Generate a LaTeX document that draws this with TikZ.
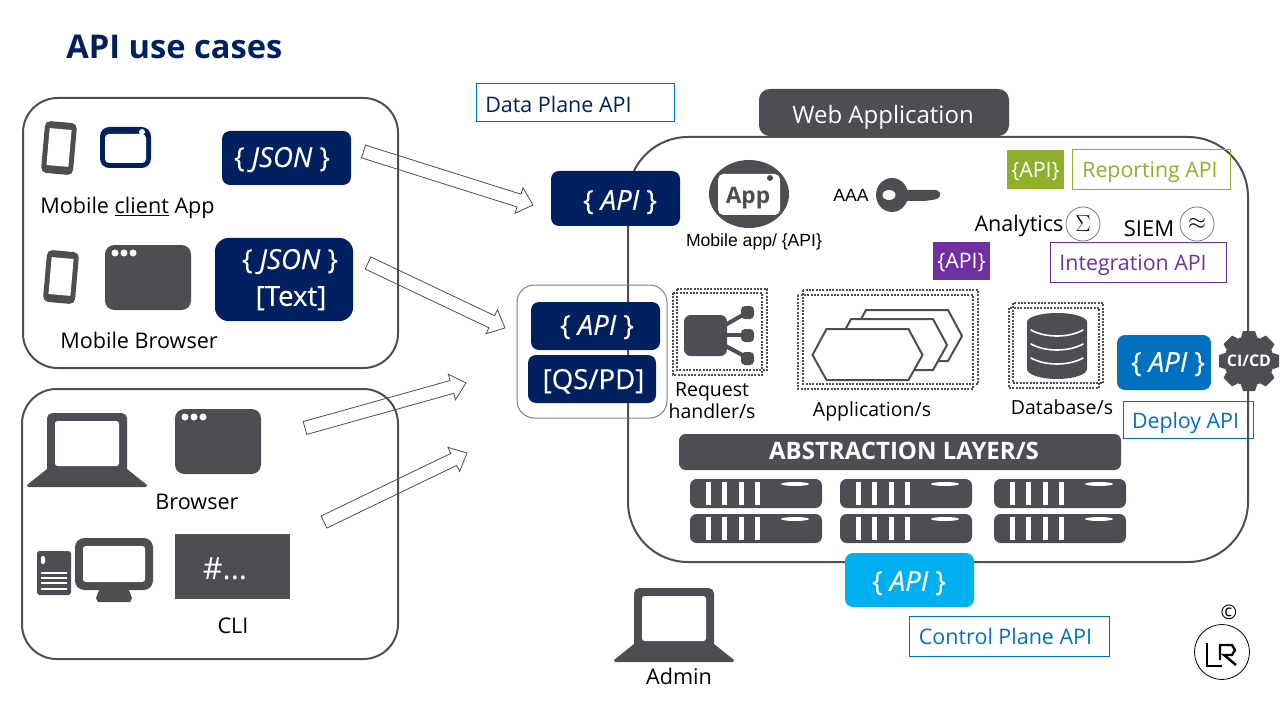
\documentclass[tikz,border=0pt]{standalone}
\usepackage{fontspec}
\usetikzlibrary{calc}
\setmainfont{Open Sans}
\newfontfamily\arialfont{Liberation Sans}
\definecolor{slate}{RGB}{77,78,83}
\definecolor{navy}{RGB}{0,32,96}
\definecolor{skyapi}{RGB}{0,176,240}
\definecolor{blueapi}{RGB}{0,112,192}
\definecolor{greenapi}{RGB}{143,176,45}
\definecolor{purpleapi}{RGB}{112,48,160}
\tikzset{
  every node/.style={text depth=0pt},
  bigbox/.style={draw=slate,line width=1.5pt,rounded corners=26pt},
  lbl/.style={inner sep=0pt,text=black,font=\fontsize{16.2}{19}\selectfont},
  smalllbl/.style={lbl,font=\fontsize{14.6}{17}\selectfont},
  arlbl/.style={lbl,font=\fontsize{13.2}{15}\arialfont},
  apibox/.style={fill=navy,rounded corners=6pt,inner sep=0pt},
  apitext/.style={text=white,inner sep=0pt,font=\fontsize{20.7}{24}\selectfont\addfontfeature{FakeBold=0.3}},
  tagbox/.style={draw,line width=0.75pt,inner sep=0pt,font=\fontsize{16.1}{19}\selectfont},
  colbox/.style={inner sep=0pt,text=white,font=\fontsize{16}{19}\selectfont},
  dotframe/.style={draw=slate,line width=1.5pt,densely dotted,line cap=butt},
  blockarrow/.style={draw=slate,line width=0.6pt,to path={
    ($(\tikztostart)!5pt!90:(\tikztotarget)$)
    -- ($(\tikztotarget)!11pt!(\tikztostart)!5pt!90:(\tikztotarget)$)
    -- ($(\tikztotarget)!11pt!(\tikztostart)!10pt!90:(\tikztotarget)$)
    -- (\tikztotarget)
    -- ($(\tikztotarget)!11pt!(\tikztostart)!10pt!-90:(\tikztotarget)$)
    -- ($(\tikztotarget)!11pt!(\tikztostart)!5pt!-90:(\tikztotarget)$)
    -- ($(\tikztostart)!5pt!-90:(\tikztotarget)$) -- cycle}},
  phone/.pic={
    \fill[slate,rounded corners=4pt] (-16,-26) rectangle (16,26);
    \fill[white] (-11,-19) rectangle (11,18);
  },
  browserwin/.pic={
    \fill[slate,rounded corners=7pt] (0,0) rectangle (86,65);
    \foreach \i in {10,19,28} \fill[white] (\i,8) circle (3.5);
  },
  laptop/.pic={
    \fill[slate,rounded corners=4pt] (47,413) rectangle (127,475);
    \fill[slate] (47,469) -- (127,469) -- (147,485) -- (146,487) -- (28,487) -- (27,485) -- cycle;
    \fill[white,rounded corners=2pt] (55,421) rectangle (119,466);
  },
  hexshape/.pic={
    \draw[slate,line width=1.5pt,fill=white] (-55,0) -- (-41,-26) -- (41,-26) -- (55,0) -- (41,25) -- (-41,25) -- cycle;
  },
  serverunit/.pic={
    \fill[slate,rounded corners=5pt] (0,0) rectangle (132,29);
    \foreach \i in {18,34,51,67} \fill[white] (\i-2.5,3) rectangle (\i+2.5,26);
    \fill[white] (105,5) ellipse (14 and 2);
  }
}
\begin{document}
\begin{tikzpicture}[x=0.75pt,y=-0.75pt]
  \useasboundingbox (0,0) rectangle (1280,720);
  \node[anchor=west,inner sep=0pt,text=navy,font=\fontsize{24.5}{28}\selectfont\bfseries] (title) at (66,47) {API use cases};

  \draw[bigbox] (23,98) rectangle (398,368);
  \draw[bigbox] (22,389) rectangle (398,659);
  \draw[bigbox,rounded corners=45pt] (628,137) rectangle (1248,562);

  \pic[rotate=-5] at (59,148) {phone};
  \fill[navy,rounded corners=7pt] (100,127) rectangle (151,168);
  \fill[white,rounded corners=3pt] (105,134) rectangle (146,163);
  \fill[white] (142,132) circle (3);
  \node[apibox,minimum width=129*0.75pt,minimum height=54*0.75pt] (jsonA) at (286.5,158) {};
  \node[apitext] (jsonAtxt) at (282,157) {\{ \textit{JSON} \}};
  \node[lbl,anchor=west] (mobileapp) at (40,205) {Mobile \underline{client} App};

  \pic[rotate=-5] at (61,277) {phone};
  \pic at (105,245) {browserwin};
  \node[apibox,rounded corners=10pt,minimum width=138*0.75pt,minimum height=83*0.75pt] (jsonB) at (284,279.5) {};
  \node[apitext] (jsonBtxt) at (290,259) {\{ \textit{JSON} \}};
  \node[apitext] (textB) at (291,296) {[Text]};
  \node[lbl,anchor=west] (mobilebrowser) at (60,340) {Mobile Browser};

  \pic at (0,0) {laptop};
  \pic at (175,409) {browserwin};
  \node[lbl] (browser) at (197,502) {Browser};
  \fill[slate,rounded corners=2pt] (37,551) rectangle (71,595);
  \fill[white,rounded corners=1pt] (41,556) rectangle (45,564);
  \foreach \i in {573,578,583,589} \draw[white,line width=0.8pt] (41,\i) -- (67,\i);
  \fill[slate] (100,588) -- (128,588) -- (132,598) -- (130,602) -- (98,602) -- (96,598) -- cycle;
  \fill[slate,rounded corners=7pt] (75,538) rectangle (153,590);
  \fill[white,rounded corners=2pt] (83,546) rectangle (145,582);
  \node[fill=slate,minimum width=115*0.75pt,minimum height=65*0.75pt,inner sep=0pt] (clibox) at (232.5,566.5) {};
  \node[apitext,font=\fontsize{23}{26}\selectfont] (clitxt) at (225,569) {\#...};
  \node[lbl] (cli) at (233,626) {CLI};

  \coordinate (tailA) at (363.5,151.5);
  \coordinate (tipA) at (533,205);
  \coordinate (tailB) at (368,263);
  \coordinate (tipB) at (505,328);
  \coordinate (tailC) at (305,428);
  \coordinate (tipC) at (466,383);
  \coordinate (tailD) at (324,522);
  \coordinate (tipD) at (467,453);
  \draw[blockarrow] (tailA) to (tipA);
  \draw[blockarrow] (tailB) to (tipB);
  \draw[blockarrow] (tailC) to (tipC);
  \draw[blockarrow] (tailD) to (tipD);

  \node[tagbox,draw=blueapi,minimum width=198*0.75pt,minimum height=38*0.75pt] (dataplane) at (575,103) {};
  \node[anchor=west,inner sep=0pt,text=navy,font=\fontsize{16.1}{19}\selectfont] (dataplanetxt) at (485,104) {Data Plane API};
  \node[fill=slate,text=white,rounded corners=8pt,minimum width=250*0.75pt,minimum height=47*0.75pt,inner sep=0pt] (webapp) at (884,112.5) {};
  \node[inner sep=0pt,text=white,font=\fontsize{18}{22}\selectfont] (webapptxt) at (883,114) {Web Application};

  \node[apibox,minimum width=129*0.75pt,minimum height=55*0.75pt] (dataapi) at (615.5,198.5) {};
  \node[apitext] (dataapitxt) at (620,200) {\{ \textit{API} \}};
  \draw[gray,line width=0.75pt,rounded corners=13pt] (517,285) rectangle (667,418);
  \node[apibox,minimum width=129*0.75pt,minimum height=48*0.75pt] (qsapi) at (595.5,326) {};
  \node[apitext] (qsapitxt) at (597,325) {\{ \textit{API} \}};
  \node[apibox,minimum width=128*0.75pt,minimum height=48*0.75pt] (qspd) at (592,379) {};
  \node[apitext] (qspdtxt) at (593.5,379) {[QS/PD]};

  \fill[slate] (749,194) ellipse (40 and 34);
  \fill[white,rounded corners=4pt] (718,174) rectangle (780,215);
  \fill[slate] (770,178) circle (3);
  \node[inner sep=0pt,text=slate,font=\fontsize{17}{20}\selectfont\bfseries] (appicon) at (748,195) {App};
  \node[arlbl] (mobileapi) at (754,240) {Mobile app/ \{API\}};
  \node[arlbl] (aaa) at (851,195) {AAA};
  \fill[slate,rounded corners=2pt] (895,190) -- (938,190) -- (941,194) -- (938,199) -- (925,201) -- (895,201) -- cycle;
  \fill[slate] (892,195) ellipse (16 and 17);
  \fill[white] (889,195) ellipse (6.5 and 5);

  \node[colbox,fill=greenapi,minimum width=57*0.75pt,minimum height=39*0.75pt] (greenbox) at (1035.5,169.5) {\{API\}};
  \node[tagbox,draw=greenapi,minimum width=158*0.75pt,minimum height=40*0.75pt] (reporting) at (1151,170) {};
  \node[inner sep=0pt,text=greenapi,font=\fontsize{16}{19}\selectfont] (reportingtxt) at (1150,170) {Reporting API};
  \node[lbl] (analytics) at (1019,223) {Analytics};
  \node[draw=black!60,line width=0.5pt,circle,minimum size=34*0.75pt,inner sep=0pt] (sigma) at (1083,224) {\LARGE$\Sigma$};
  \node[lbl,font=\fontsize{16.5}{19}\selectfont] (siem) at (1149,229) {SIEM};
  \node[draw=black!60,line width=0.5pt,circle,minimum size=34*0.75pt,inner sep=0pt] (approx) at (1197,224) {\LARGE$\approx$};
  \node[colbox,fill=purpleapi,minimum width=57*0.75pt,minimum height=38*0.75pt] (purplebox) at (961.5,261) {\{API\}};
  \node[tagbox,draw=purpleapi,minimum width=176*0.75pt,minimum height=39*0.75pt] (integration) at (1138,262.5) {};
  \node[inner sep=0pt,text=purpleapi,font=\fontsize{16}{19}\selectfont] (integrationtxt) at (1133,263) {Integration API};

  \draw[dotframe] (677,289) rectangle (767,370);
  \draw[dotframe] (673,293) rectangle (762,375);
  \fill[slate,rounded corners=5pt] (684,315) rectangle (727,356);
  \draw[slate,line width=3pt] (720,328) -- (748,312);
  \draw[slate,line width=3pt] (720,335) -- (748,335);
  \draw[slate,line width=3pt] (720,343) -- (748,358);
  \foreach \i in {306,329,352} \fill[slate,rounded corners=3pt] (741,\i) rectangle (754,\i+13);
  \node[smalllbl] (request) at (712,390) {Request};
  \node[smalllbl] (handler) at (712,411) {handler/s};

  \draw[dotframe] (803,290) rectangle (978,384);
  \draw[dotframe] (798,295) rectangle (973,389);
  \pic at (907,336) {hexshape};
  \pic at (892,345) {hexshape};
  \pic at (867.5,355) {hexshape};
  \node[smalllbl] (application) at (872,409) {Application/s};

  \draw[dotframe] (1013,303) rectangle (1103,383);
  \draw[dotframe] (1009,308) rectangle (1099,388);
  \fill[slate] (1027,322) -- (1027,369) arc[start angle=180,end angle=360,x radius=30,y radius=-10] -- (1087,322) arc[start angle=0,end angle=180,x radius=30,y radius=-9] -- cycle;
  \foreach \i in {330,344,358} \draw[white,line width=1.2pt,line cap=round] (1031,\i) .. controls (1045,\i+8) and (1069,\i+8) .. (1083,\i);
  \node[smalllbl] (database) at (1062,407) {Database/s};

  \node[apibox,fill=blueapi,minimum width=94*0.75pt,minimum height=55*0.75pt] (deployapi) at (1164,362.5) {};
  \node[apitext] (deployapitxt) at (1168,362) {\{ \textit{API} \}};
  \foreach \a in {0,45,...,315}
    \fill[slate,rotate around={\a:(1249,361)}] (1241,337) -- (1243,331) -- (1255,331) -- (1257,337) -- cycle;
  \fill[slate] (1249,361) circle (25);
  \node[inner sep=0pt,text=white,font=\fontsize{12}{14}\selectfont\bfseries] (cicd) at (1249,361) {CI/CD};
  \node[tagbox,draw=blueapi,minimum width=130*0.75pt,minimum height=37*0.75pt] (deploy) at (1188,419.5) {};
  \node[inner sep=0pt,text=blueapi,font=\fontsize{16}{19}\selectfont] (deploytxt) at (1185.5,420) {Deploy API};

  \node[fill=slate,rounded corners=5pt,minimum width=442*0.75pt,minimum height=36*0.75pt,inner sep=0pt] (abstraction) at (900,452) {};
  \node[inner sep=0pt,text=white,font=\fontsize{18}{22}\selectfont\bfseries] (abstractiontxt) at (904,451) {ABSTRACTION LAYER/S};
  \foreach \cx in {690,840,994} {
    \pic at (\cx,479) {serverunit};
    \pic at (\cx,514) {serverunit};
  }

  \node[apibox,fill=skyapi,minimum width=129*0.75pt,minimum height=54*0.75pt] (controlapi) at (909.5,580) {};
  \node[apitext] (controlapitxt) at (909,581) {\{ \textit{API} \}};
  \node[tagbox,draw=blueapi,minimum width=200*0.75pt,minimum height=40*0.75pt] (controlplane) at (1009,636) {};
  \node[inner sep=0pt,text=blueapi,font=\fontsize{16.1}{19}\selectfont] (controlplanetxt) at (1005.5,636) {Control Plane API};

  \pic at (587,175) {laptop};
  \node[lbl] (admin) at (679,676) {Admin};

  \node[inner sep=0pt,font=\fontsize{15}{17}\selectfont] (copyr) at (1229,612) {\textcopyright};
  \node[draw=black,line width=0.6pt,circle,minimum size=55*0.75pt,inner sep=0pt] (logo) at (1222,652) {};
  \draw[black,line width=1.8pt] (1207,643) -- (1207,666) -- (1222,666);
  \draw[black,line width=1.8pt] (1220,660) -- (1220,645) -- (1232,645) -- (1235,650) -- (1232,655) -- (1224,655) -- (1236,665);
\end{tikzpicture}
\end{document}
